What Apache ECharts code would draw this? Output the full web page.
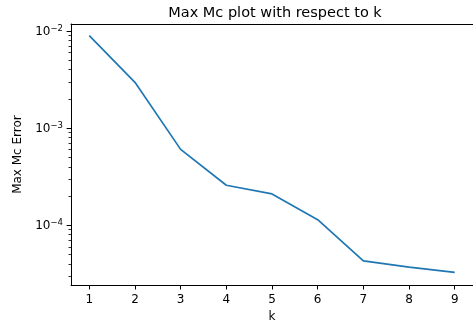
<!DOCTYPE html>
<html>
<head>
<meta charset="utf-8">
<script src="https://cdn.jsdelivr.net/npm/echarts@6/dist/echarts.min.js"></script>
<style>
html,body{margin:0;padding:0;background:#fff;}
#chart{width:473px;height:328px;}
</style>
</head>
<body>
<div id="chart"></div>
<script>
const kValues = [1, 2, 3, 4, 5, 6, 7, 8, 9];
const maxMcError = [8.97e-3, 2.96e-3, 6.04e-4, 2.58e-4, 2.1e-4, 1.14e-4, 4.3e-5, 3.7e-5, 3.27e-5];
const xTicks = [1, 2, 3, 4, 5, 6, 7, 8, 9];
const yMajorTicks = [1e-4, 1e-3, 1e-2];
const yMinorTicks = [3e-5, 4e-5, 5e-5, 6e-5, 7e-5, 8e-5, 9e-5,
  2e-4, 3e-4, 4e-4, 5e-4, 6e-4, 7e-4, 8e-4, 9e-4,
  2e-3, 3e-3, 4e-3, 5e-3, 6e-3, 7e-3, 8e-3, 9e-3];
const titleText = 'Max Mc plot with respect to k';
const xName = 'k';
const yName = 'Max Mc Error';

const FONT = 'DejaVu Sans';
const TXT = '#000';
const yMin = 2.42e-5, yMax = 1.18e-2;
const xMin = 0.6, xMax = 9.4;

const chart = echarts.init(document.getElementById('chart'), null, {renderer: 'canvas'});
chart.setOption({
  animation: false,
  backgroundColor: '#fff',
  graphic: [{
    type: 'text', x: 275, y: 13,
    style: {
      text: titleText, fontFamily: FONT, fontSize: 14.5, fill: TXT,
      textAlign: 'center', textVerticalAlign: 'middle'
    }
  }],
  grid: {left: 71, top: 24, width: 407.5, height: 266},
  xAxis: [{
    type: 'value', min: xMin, max: xMax,
    name: xName, nameLocation: 'middle', nameGap: 25,
    nameTextStyle: {fontFamily: FONT, fontSize: 12, color: TXT},
    axisLine: {lineStyle: {color: '#000', width: 1}},
    axisTick: {show: true, length: 4.4, inside: false, lineStyle: {color: '#000'}, customValues: xTicks},
    axisLabel: {fontFamily: FONT, fontSize: 12, color: TXT, margin: 9, customValues: xTicks},
    splitLine: {show: false}
  }, {
    type: 'value', min: xMin, max: xMax, position: 'top',
    axisLine: {show: true, lineStyle: {color: '#000', width: 1}},
    axisTick: {show: false},
    axisLabel: {show: false},
    splitLine: {show: false}
  }],
  yAxis: [{
    type: 'log', min: yMin, max: yMax, logBase: 10,
    name: yName, nameLocation: 'middle', nameGap: 47, nameRotate: 90,
    nameTextStyle: {fontFamily: FONT, fontSize: 12, color: TXT},
    axisLine: {show: true, lineStyle: {color: '#000', width: 1}},
    axisTick: {show: true, length: 4.4, lineStyle: {color: '#000'}, customValues: yMajorTicks},
    axisLabel: {
      fontFamily: FONT, fontSize: 12, color: TXT, margin: 8, customValues: yMajorTicks,
      formatter: function (v) {
        const e = Math.round(Math.log10(v));
        return '{b|10}{s|' + (e < 0 ? '\u2212' : '') + Math.abs(e) + '}';
      },
      rich: {
        b: {fontFamily: FONT, fontSize: 12, color: TXT, verticalAlign: 'bottom', lineHeight: 14},
        s: {fontFamily: FONT, fontSize: 8.5, color: TXT, verticalAlign: 'top', lineHeight: 14, padding: [0, 0, 6, 0]}
      }
    },
    splitLine: {show: false}
  }, {
    type: 'log', min: yMin, max: yMax, logBase: 10, position: 'left',
    axisLine: {show: false},
    axisTick: {show: true, length: 2.5, lineStyle: {color: '#000', width: 0.8}, customValues: yMinorTicks},
    axisLabel: {show: false},
    splitLine: {show: false}
  }],
  series: [{
    type: 'line',
    data: kValues.map((k, i) => [k, maxMcError[i]]),
    xAxisIndex: 0,
    yAxisIndex: 0,
    showSymbol: false,
    lineStyle: {color: '#1f77b4', width: 1.7},
    itemStyle: {color: '#1f77b4'}
  }]
});
</script>
</body>
</html>
